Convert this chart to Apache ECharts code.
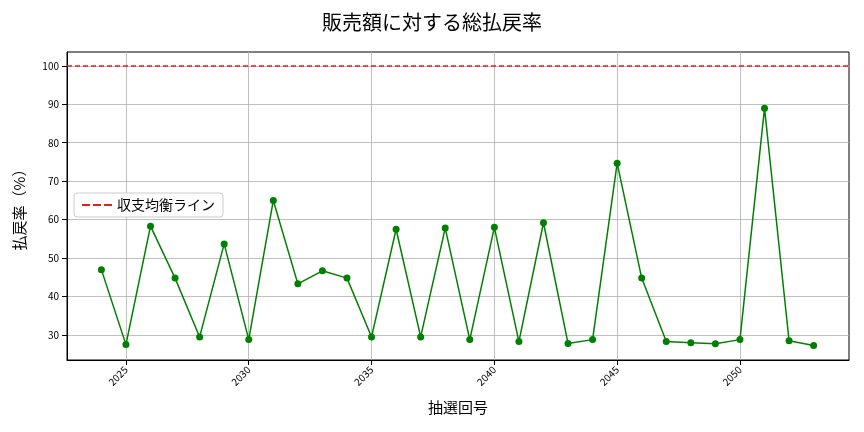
<!DOCTYPE html>
<html><head><meta charset="utf-8">
<script src="https://cdn.jsdelivr.net/npm/echarts@6/dist/echarts.min.js"></script>
<style>html,body{margin:0;padding:0;background:#fff}#c{width:864px;height:432px}</style>
</head><body><div id="c"></div>
<script>
const draws = [2024,2025,2026,2027,2028,2029,2030,2031,2032,2033,2034,2035,2036,2037,2038,2039,2040,2041,2042,2043,2044,2045,2046,2047,2048,2049,2050,2051,2052,2053];
const rates = [47,27.5,58.3,44.8,29.5,53.7,28.8,65,43.3,46.7,44.8,29.5,57.5,29.5,57.8,28.8,58,28.3,59.2,27.8,28.8,74.7,44.8,28.3,28,27.7,28.8,89,28.5,27.3];
const xTicks = [2025,2030,2035,2040,2045,2050];
const yTicks = [30,40,50,60,70,80,90,100];
const breakEven = 100;
const font = '"Noto Sans CJK JP", sans-serif';
const chart = echarts.init(document.getElementById('c'));
chart.setOption({
  animation:false,
  title:{text:'販売額に対する総払戻率',left:'center',top:7,textStyle:{fontFamily:font,fontSize:20,fontWeight:'normal',color:'#000'}},
  grid:{left:67,right:15,top:52,bottom:72,show:true,borderColor:'#000',borderWidth:1},
  legend:{left:74,top:193,orient:'vertical',backgroundColor:'#fff',borderColor:'#ccc',borderWidth:1,borderRadius:3,padding:[5,8],
    itemWidth:30,itemHeight:2,textStyle:{fontFamily:font,fontSize:14,color:'#000'},data:[{name:'収支均衡ライン',icon:'path://M0,0H8V2H0ZM11,0H19V2H11ZM22,0H30V2H22Z'}]},
  xAxis:{type:'value',min:2022.6,max:2054.44,name:'抽選回号',nameLocation:'middle',nameGap:40,
    nameTextStyle:{fontFamily:font,fontSize:15,color:'#000'},
    axisLine:{onZero:false,lineStyle:{color:'#000'}},
    axisTick:{customValues:xTicks,lineStyle:{color:'#000'}},
    axisLabel:{customValues:xTicks,rotate:45,fontSize:10,color:'#000',fontFamily:font,formatter:v=>String(v)},
    splitLine:{show:true,lineStyle:{color:'#b0b0b0',width:0.8}}},
  yAxis:{type:'value',min:23.5,max:103.6,name:'払戻率（%）',nameLocation:'middle',nameGap:40,
    nameTextStyle:{fontFamily:font,fontSize:15,color:'#000'},
    axisLine:{show:true,lineStyle:{color:'#000'}},
    axisTick:{show:true,customValues:yTicks,lineStyle:{color:'#000'}},
    axisLabel:{customValues:yTicks,fontSize:10,color:'#000',fontFamily:font},
    splitLine:{show:true,lineStyle:{color:'#b0b0b0',width:0.8}}},
  series:[
    {type:'line',data:draws.map((d,i)=>[d,rates[i]]),color:'green',lineStyle:{width:1.5,color:'green'},
     symbol:'circle',symbolSize:7,itemStyle:{color:'green'}},
    {name:'収支均衡ライン',type:'line',data:[],color:'#e02020',
     markLine:{silent:true,symbol:'none',label:{show:false},lineStyle:{color:'#e02020',type:[5,3],width:1.5},data:[{yAxis:breakEven}]}}
  ]
});
</script></body></html>
